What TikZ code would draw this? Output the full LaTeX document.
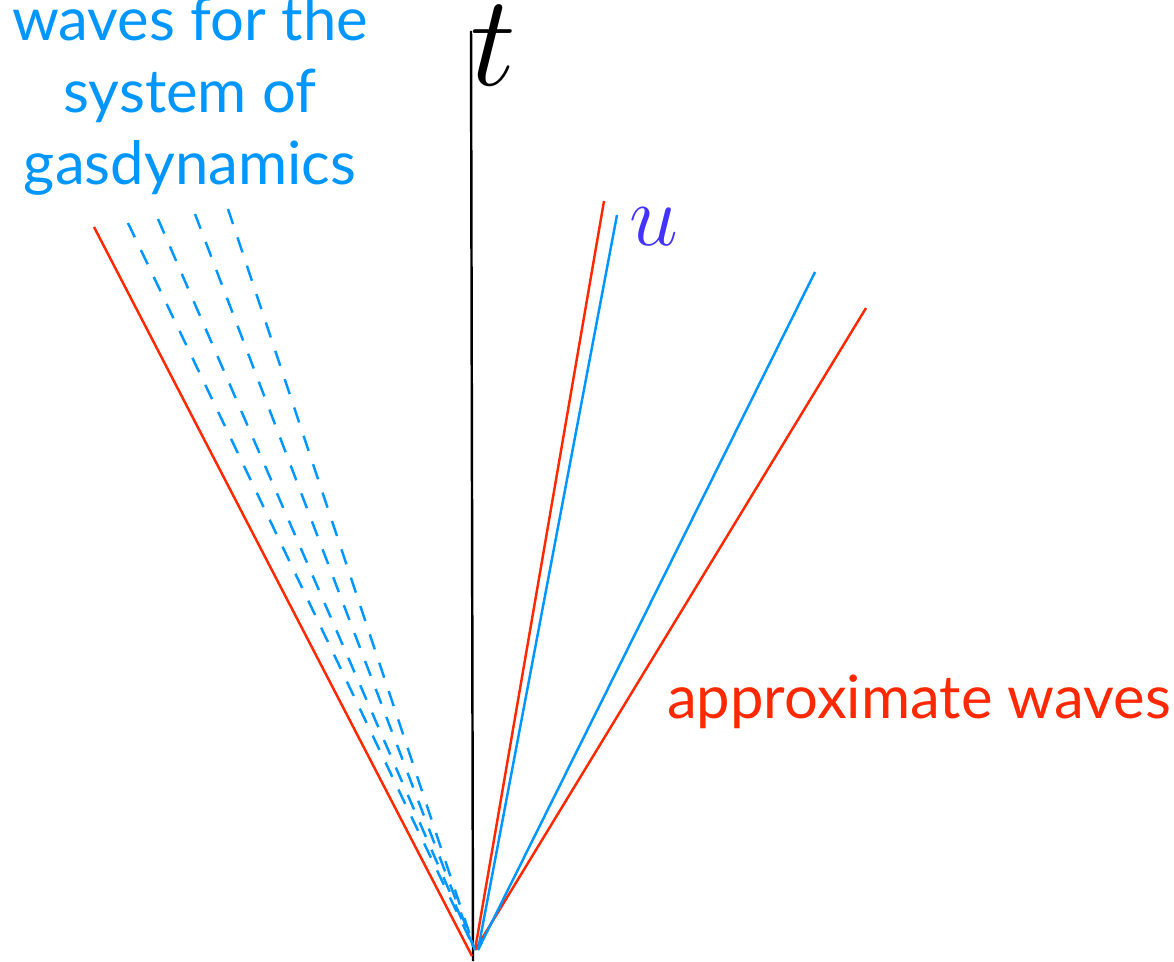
\documentclass[tikz,border=0pt]{standalone}
\usepackage{fontspec}
\setmainfont{Lato}
\usepackage{xcolor}
\definecolor{gasblue}{RGB}{0,150,255}
\definecolor{apxred}{RGB}{255,40,0}
\definecolor{upurple}{RGB}{68,51,255}
\usetikzlibrary{positioning}

\tikzset{
  wave/.style={line width=0.7pt},
  gaswave/.style={wave, gasblue, dash pattern=on 4.5pt off 4pt},
}

\begin{document}
\begin{tikzpicture}[x=0.01cm, y=-0.01cm]
  \useasboundingbox (0,0) rectangle (1174,961);

  % Origin and time axis
  \coordinate (O) at (475,950);
  \coordinate (Ored) at (472,956);
  \coordinate (axbot) at (473,961);
  \coordinate (axtop) at (471,31);
  \draw[line width=0.7pt] (axbot) -- (axtop);
  \node[font=\Huge, scale=1.48, inner sep=0pt] (tlab) at (493,46) {$t$};

  % Approximate waves (red)
  \coordinate (r1) at (94,227);
  \coordinate (r2) at (604,201);
  \coordinate (r3) at (866,308);
  \draw[wave, apxred] (r1) -- (Ored);
  \draw[wave, apxred] (r2) -- (O);
  \draw[wave, apxred] (r3) -- (O);

  % Waves of the gas system (blue)
  \coordinate (b1) at (617,215);
  \coordinate (b2) at (815,272);
  \draw[wave, gasblue] (b1) -- (478,950);
  \draw[wave, gasblue] (b2) -- (478,950);
  \foreach \x/\y [count=\i] in {128/223, 158/219, 195/214, 228/209}
    \draw[gaswave] (\x,\y) coordinate (d\i) -- (O);

  % Labels
  \node[font=\Huge, text=upurple] (ulab) at (654,227) {$u$};
  \node[font=\fontsize{17}{20.5}\selectfont, text=gasblue, align=center] (gaslab)
       at (190,96) {waves for the\\system of\\gasdynamics};
  \node[font=\fontsize{17}{21}\selectfont, text=apxred] (apxlab)
       at (919,702) {approximate waves};
\end{tikzpicture}
\end{document}
